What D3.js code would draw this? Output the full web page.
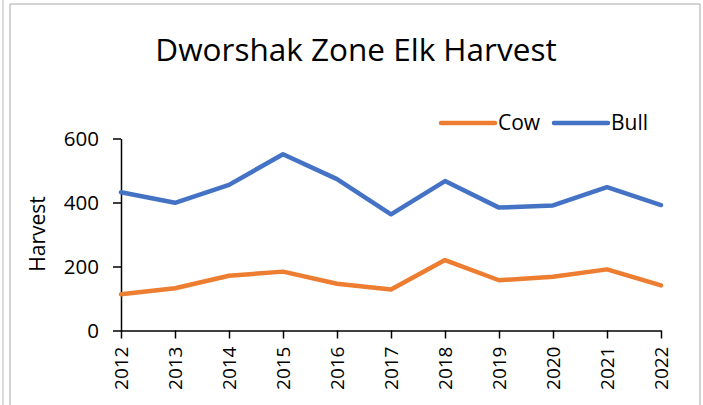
<!DOCTYPE html>
<html>
<head>
<meta charset="utf-8">
<script src="https://cdn.jsdelivr.net/npm/d3@7"></script>
<style>
  body { margin: 0; background: #fff; }
  text { font-family: "Open Sans", sans-serif; fill: #000; }
</style>
</head>
<body>
<svg id="chart" width="703" height="405"></svg>
<script>
const YEARS = [2012, 2013, 2014, 2015, 2016, 2017, 2018, 2019, 2020, 2021, 2022];
const COW = [113, 132, 171, 184, 146, 128, 220, 157, 168, 191, 141];
const BULL = [432, 399, 455, 551, 473, 363, 467, 384, 391, 448, 392];
const Y_TICKS = [0, 200, 400, 600];
const SERIES = [
  { name: 'Cow', values: COW, color: '#ED7D31' },
  { name: 'Bull', values: BULL, color: '#4472C4' },
];

const svg = d3.select('#chart');

// page frame lines from the source document
svg.append('line').attr('x1', 3).attr('x2', 3).attr('y1', 0).attr('y2', 405)
   .attr('stroke', '#dadada').attr('stroke-width', 2);
svg.append('line').attr('x1', 10).attr('x2', 10).attr('y1', 4).attr('y2', 405)
   .attr('stroke', '#c4c4c4').attr('stroke-width', 1.5);
svg.append('line').attr('x1', 10).attr('x2', 700).attr('y1', 4).attr('y2', 4)
   .attr('stroke', '#c4c4c4').attr('stroke-width', 1.5);
svg.append('line').attr('x1', 700).attr('x2', 700).attr('y1', 4).attr('y2', 405)
   .attr('stroke', '#c4c4c4').attr('stroke-width', 1.5);

const x = d3.scalePoint().domain(YEARS).range([121, 661]);
const y = d3.scaleLinear().domain([0, 600]).range([330.5, 138.5]);

svg.append('text')
   .attr('x', 356).attr('y', 61)
   .attr('text-anchor', 'middle')
   .attr('font-size', 31.5)
   .text('Dworshak Zone Elk Harvest');

const yAxis = svg.append('g')
   .attr('transform', 'translate(121,0)')
   .call(d3.axisLeft(y).tickValues(Y_TICKS).tickSize(8).tickSizeOuter(0).tickPadding(14));
yAxis.select('.domain').attr('stroke', '#000').attr('stroke-width', 1.5);
yAxis.selectAll('line').attr('stroke', '#000').attr('stroke-width', 1.5);
yAxis.selectAll('text').attr('font-size', 20.5).attr('font-family', '"Open Sans", sans-serif').attr('fill', '#000');

const xAxis = svg.append('g')
   .attr('transform', 'translate(0,330.5)')
   .call(d3.axisBottom(x).tickSize(8).tickSizeOuter(0));
xAxis.select('.domain').attr('stroke', '#000').attr('stroke-width', 1.5);
xAxis.selectAll('line').attr('stroke', '#000').attr('stroke-width', 1.5);
xAxis.selectAll('text')
   .attr('font-size', 19)
   .attr('font-family', '"Open Sans", sans-serif')
   .attr('fill', '#000')
   .attr('text-anchor', 'end')
   .attr('dy', '0.35em')
   .attr('transform', 'rotate(-90)')
   .attr('x', -16)
   .attr('y', 0);

svg.append('text')
   .attr('transform', 'translate(45,234) rotate(-90)')
   .attr('text-anchor', 'middle')
   .attr('font-size', 21)
   .text('Harvest');

const line = d3.line()
   .x((d, i) => x(YEARS[i]))
   .y(d => y(d));

svg.selectAll('.series')
   .data(SERIES)
   .enter()
   .append('path')
   .classed('series', true)
   .attr('d', d => line(d.values))
   .attr('fill', 'none')
   .attr('stroke', d => d.color)
   .attr('stroke-width', 4.5)
   .attr('stroke-linejoin', 'round')
   .attr('stroke-linecap', 'round');

const legend = svg.selectAll('.legend')
   .data(SERIES)
   .enter()
   .append('g')
   .classed('legend', true)
   .attr('transform', (d, i) => `translate(${441 + i * 113},123)`);
legend.append('line')
   .attr('x1', 0).attr('x2', 54).attr('y1', 0).attr('y2', 0)
   .attr('stroke', d => d.color)
   .attr('stroke-width', 4.5)
   .attr('stroke-linecap', 'round');
legend.append('text')
   .attr('x', 57).attr('y', 0).attr('dy', '0.35em')
   .attr('font-size', 21)
   .text(d => d.name);
</script>
</body>
</html>
